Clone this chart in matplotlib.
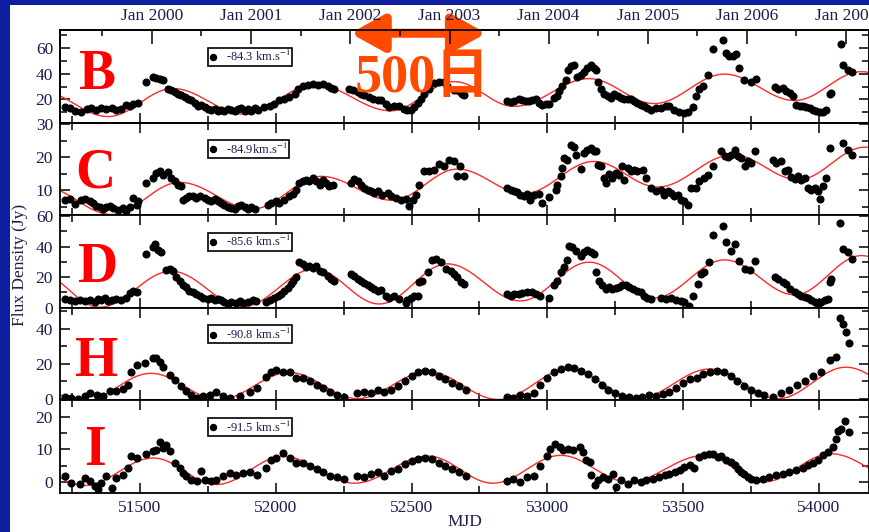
import numpy as np
import matplotlib.pyplot as plt
from matplotlib.ticker import MultipleLocator, FixedLocator

plt.rcParams['font.family'] = ['Liberation Serif', 'Noto Sans CJK JP']
plt.rcParams['mathtext.fontset'] = 'stix'

BLUE = '#0d1f9e'
ORANGE = '#ff4a00'
INK = '#1a1d4d'

# ---- data (MJD, flux density in Jy) ----
B_MJD = [51223, 51241, 51260, 51284, 51303, 51321, 51339, 51358, 51376, 51395, 51413, 51431, 51450, 51462, 51474, 51493,
         51523, 51548, 51560, 51572, 51585, 51603, 51615, 51627, 51640, 51652, 51664, 51676, 51689, 51701, 51713, 51725,
         51738, 51750, 51762, 51775, 51787, 51799, 51811, 51824, 51836, 51848, 51860, 51873, 51885, 51897, 51909, 51922,
         51934, 51958, 51977, 51995, 52013, 52032, 52050, 52069, 52081, 52099, 52118, 52136, 52154, 52173, 52191, 52203,
         52216, 52271, 52283, 52301, 52314, 52326, 52344, 52357, 52375, 52387, 52406, 52418, 52436, 52455, 52473, 52485,
         52498, 52510, 52522, 52534, 52547, 52565, 52583, 52602, 52620, 52632, 52657, 52675, 52686, 52692,
         52852, 52865, 52877, 52895, 52908, 52920, 52932, 52945, 52957, 52969, 52982, 52994, 53006, 53025, 53037, 53043,
         53055, 53068, 53076, 53086, 53099, 53111, 53123, 53135, 53148, 53160, 53172, 53179, 53185, 53197, 53209, 53222,
         53234, 53246, 53259, 53271, 53283, 53296, 53308, 53320, 53332, 53345, 53357, 53369, 53382, 53400, 53419, 53437,
         53450, 53468, 53486, 53505, 53517, 53536, 53548, 53560, 53573, 53591, 53610, 53647, 53659, 53671, 53683, 53696,
         53708, 53726, 53751, 53770, 53837, 53850, 53868, 53880, 53893, 53905, 53917, 53930, 53942, 53954, 53967, 53979,
         53991, 54004, 54016, 54028, 54041, 54044, 54081, 54090, 54108, 54121]
B_FLUX = [13.9, 13.1, 11.2, 9.9, 12.5, 13.3, 12.0, 13.6, 12.5, 13.1, 11.7, 12.5, 15.7, 14.7, 16.5, 17.3,
          33.3, 37.1, 36.5, 36.0, 35.2, 28.5, 27.7, 25.9, 24.5, 23.2, 21.9, 20.5, 19.2, 17.3, 15.2, 15.7,
          13.9, 12.5, 12.0, 12.5, 11.2, 11.7, 11.2, 12.5, 12.0, 11.2, 12.5, 13.1, 11.2, 12.5, 11.2, 13.1,
          12.0, 13.9, 15.2, 16.5, 19.2, 20.0, 21.9, 24.5, 28.5, 30.7, 31.2, 31.7, 31.2, 31.7, 30.7, 29.1,
          28.5, 28.5, 27.7, 25.9, 24.5, 23.2, 21.9, 20.5, 19.7, 19.2, 16.5, 13.9, 14.7, 15.2, 12.5, 12.0,
          12.0, 14.2, 17.3, 20.0, 24.5, 28.5, 32.5, 33.9, 33.9, 30.2, 27.5, 26.2, 24.0, 23.2,
          18.7, 17.8, 18.9, 20.0, 19.2, 18.9, 18.7, 19.5, 20.5, 17.3, 16.0, 16.8, 16.2, 21.4, 22.7, 26.8,
          30.8, 34.9, 43.0, 45.7, 47.0, 37.6, 38.9, 41.6, 44.3, 47.0, 44.3, 43.0, 33.5, 28.1, 24.0, 22.7,
          21.4, 24.0, 22.7, 21.4, 20.0, 20.5, 20.0, 18.7, 17.3, 16.0, 14.6, 13.3, 11.9, 13.3, 13.3, 14.6,
          14.6, 11.9, 10.6, 9.2, 10.6, 14.1, 22.7, 28.1, 30.8, 39.4, 59.2, 65.9, 56.5, 53.8, 53.8, 55.1,
          44.3, 34.9, 33.5, 36.2, 29.5, 28.1, 28.6, 26.8, 25.4, 22.7, 16.0, 15.1, 14.6, 14.1, 13.0, 11.9,
          11.4, 10.6, 10.6, 11.9, 24.0, 25.4, 63.2, 47.0, 43.0, 41.6]

C_MJD = [51223, 51241, 51260, 51284, 51297, 51315, 51327, 51339, 51352, 51364, 51376, 51389, 51401, 51419, 51437, 51450,
         51462, 51474, 51487, 51493, 51523, 51548, 51560, 51572, 51585, 51603, 51615, 51627, 51640, 51652, 51658, 51670,
         51682, 51695, 51707, 51719, 51738, 51750, 51762, 51775, 51787, 51799, 51811, 51824, 51836, 51848, 51860, 51873,
         51885, 51897, 51909, 51922, 51970, 51983, 52001, 52013, 52032, 52050, 52062, 52075, 52087, 52099, 52112, 52124,
         52136, 52148, 52161, 52173, 52185, 52197, 52210, 52277, 52289, 52301, 52314, 52326, 52338, 52351, 52363, 52375,
         52393, 52412, 52424, 52443, 52461, 52479, 52491, 52504, 52516, 52528, 52547, 52565, 52583, 52602, 52620, 52638,
         52657, 52669, 52680, 52692, 52852, 52865, 52877, 52889, 52901, 52914, 52926, 52938, 52951, 52969, 52982, 53006,
         53031, 53037, 53049, 53055, 53062, 53074, 53086, 53099, 53105, 53123, 53135, 53148, 53160, 53172, 53179, 53185,
         53197, 53209, 53216, 53228, 53240, 53252, 53265, 53277, 53283, 53296, 53308, 53320, 53332, 53351, 53363, 53382,
         53400, 53419, 53431, 53443, 53456, 53468, 53480, 53493, 53505, 53517, 53530, 53548, 53560, 53579, 53591, 53610,
         53641, 53653, 53665, 53677, 53690, 53702, 53714, 53727, 53739, 53751, 53764, 53831, 53843, 53862, 53874, 53887,
         53899, 53911, 53924, 53936, 53948, 53960, 53973, 53985, 53998, 54004, 54016, 54028, 54041, 54090, 54108, 54121]
C_FLUX = [7.2, 7.4, 6.0, 7.2, 7.4, 6.7, 6.2, 5.4, 5.0, 4.4, 5.0, 5.4, 4.7, 4.0, 4.7, 3.7,
          5.0, 7.7, 5.7, 6.7, 12.2, 13.7, 15.2, 15.7, 14.7, 15.4, 13.7, 12.7, 11.7, 11.2, 7.2, 7.7,
          8.2, 8.4, 7.7, 8.2, 7.7, 7.2, 6.7, 7.4, 6.7, 6.2, 5.7, 5.0, 4.7, 4.4, 5.4, 5.7,
          5.0, 4.4, 5.0, 4.4, 5.7, 6.2, 6.7, 6.2, 7.2, 8.2, 9.0, 10.2, 12.2, 12.7, 13.2, 12.7,
          13.7, 12.7, 11.7, 13.2, 12.2, 11.2, 11.7, 12.2, 13.4, 12.7, 11.7, 10.7, 10.2, 9.7, 9.2, 9.7,
          8.7, 9.2, 8.4, 7.7, 7.2, 7.4, 5.2, 7.2, 8.7, 11.7, 15.7, 15.7, 16.2, 18.0, 17.4, 19.2,
          18.7, 14.2, 17.4, 14.2, 10.7, 10.2, 9.7, 9.4, 8.7, 8.2, 9.0, 7.2, 8.7, 9.0, 6.2, 8.0,
          10.2, 11.7, 14.2, 16.7, 19.7, 19.2, 23.7, 23.2, 20.7, 16.4, 21.2, 22.2, 22.7, 21.7, 21.7, 17.7,
          17.2, 13.7, 12.2, 15.0, 13.7, 15.2, 14.7, 17.2, 13.2, 16.7, 15.7, 16.2, 15.7, 16.2, 13.7, 10.7,
          9.7, 10.0, 8.7, 9.7, 9.2, 8.2, 8.7, 7.2, 6.7, 5.7, 10.7, 10.7, 12.7, 13.7, 14.7, 17.2,
          21.7, 20.2, 20.0, 20.7, 22.2, 20.2, 19.7, 17.2, 18.7, 18.2, 21.7, 19.2, 18.2, 18.7, 15.7, 16.2,
          14.0, 13.4, 14.2, 13.2, 13.7, 10.7, 10.2, 10.7, 9.7, 7.4, 11.2, 13.7, 22.7, 24.2, 22.2, 20.7]

D_MJD = [51223, 51241, 51260, 51278, 51297, 51315, 51333, 51346, 51358, 51370, 51382, 51395, 51413, 51431, 51450, 51462,
         51474, 51487, 51523, 51548, 51554, 51566, 51578, 51597, 51609, 51621, 51634, 51646, 51658, 51670, 51682, 51695,
         51707, 51719, 51731, 51750, 51762, 51775, 51787, 51799, 51811, 51824, 51836, 51854, 51867, 51879, 51897, 51916,
         51928, 51965, 51977, 51995, 52007, 52020, 52032, 52044, 52056, 52062, 52075, 52087, 52099, 52112, 52124, 52136,
         52148, 52161, 52173, 52191, 52203, 52216, 52277, 52289, 52301, 52314, 52326, 52338, 52351, 52363, 52375, 52387,
         52406, 52418, 52436, 52455, 52479, 52485, 52498, 52510, 52522, 52528, 52540, 52559, 52577, 52589, 52608, 52626,
         52645, 52657, 52669, 52681, 52692, 52852, 52865, 52877, 52895, 52908, 52926, 52945, 52957, 52975, 53006, 53025,
         53037, 53049, 53062, 53074, 53080, 53092, 53105, 53123, 53135, 53148, 53160, 53172, 53179, 53191, 53203, 53216,
         53228, 53240, 53252, 53265, 53277, 53289, 53302, 53314, 53332, 53345, 53357, 53369, 53382, 53419, 53437, 53456,
         53474, 53493, 53505, 53523, 53536, 53554, 53567, 53579, 53597, 53610, 53647, 53659, 53677, 53690, 53708, 53727,
         53745, 53764, 53837, 53850, 53868, 53880, 53893, 53911, 53924, 53936, 53948, 53960, 53973, 53985, 53998, 54010,
         54022, 54035, 54041, 54044, 54078, 54090, 54108, 54121]
D_FLUX = [5.9, 5.2, 4.3, 4.8, 4.3, 5.2, 3.7, 5.9, 4.8, 6.5, 4.3, 5.2, 5.9, 4.8, 6.5, 9.6,
          10.9, 10.2, 35.2, 39.6, 41.7, 37.8, 36.3, 24.8, 25.4, 24.3, 20.0, 17.8, 14.6, 13.5, 11.3, 10.2,
          9.1, 7.4, 6.5, 5.9, 6.5, 5.2, 5.9, 4.8, 3.7, 2.6, 3.7, 3.0, 4.3, 3.0, 3.7, 4.8,
          4.3, 3.7, 5.2, 6.5, 7.4, 9.1, 11.3, 13.0, 15.7, 17.8, 20.0, 29.8, 28.7, 26.5, 27.6, 26.1,
          27.0, 24.3, 23.3, 21.1, 18.9, 17.8, 22.2, 21.1, 18.9, 17.8, 16.1, 15.2, 13.9, 12.4, 11.3, 11.7,
          8.0, 6.5, 7.4, 5.9, 3.0, 5.2, 6.5, 7.4, 8.0, 16.7, 17.4, 23.3, 31.3, 32.0, 29.8, 25.4,
          24.3, 22.2, 20.0, 16.7, 15.7, 9.1, 8.0, 9.1, 8.7, 9.6, 10.2, 10.2, 9.1, 7.4, 6.5, 14.6,
          17.8, 23.3, 26.5, 31.3, 40.7, 39.6, 37.4, 34.1, 36.3, 37.8, 36.3, 35.2, 23.3, 17.8, 14.6, 12.4,
          13.5, 12.4, 13.0, 13.9, 15.2, 14.6, 13.5, 12.4, 11.3, 10.2, 8.0, 6.5, 5.9, 6.5, 5.9, 6.5,
          5.2, 4.3, 3.7, 1.5, 8.0, 15.7, 22.2, 23.3, 29.8, 47.8, 53.7, 42.8, 37.4, 41.7, 30.9, 25.4,
          24.8, 30.9, 20.0, 18.9, 16.7, 15.7, 12.4, 10.2, 9.1, 8.0, 7.0, 6.5, 5.2, 3.7, 2.6, 3.7,
          4.8, 5.9, 16.7, 18.9, 55.2, 38.5, 36.3, 32.0]

H_MJD = [51223, 51247, 51272, 51296, 51315, 51340, 51365, 51388, 51413, 51437, 51456, 51468, 51487, 51517, 51548, 51560,
         51573, 51585, 51609, 51628, 51652, 51671, 51689, 51708, 51732, 51757, 51781, 51806, 51830, 51867, 51904, 51929,
         51965, 51983, 52002, 52027, 52051, 52076, 52100, 52125, 52150, 52175, 52200, 52225, 52250, 52300, 52325, 52350,
         52375, 52400, 52425, 52450, 52475, 52500, 52525, 52550, 52575, 52600, 52625, 52650, 52675, 52700, 52850, 52875,
         52900, 52925, 52950, 52975, 53000, 53025, 53050, 53075, 53100, 53125, 53150, 53175, 53200, 53225, 53250, 53275,
         53300, 53325, 53350, 53375, 53400, 53425, 53450, 53475, 53500, 53525, 53550, 53575, 53600, 53625, 53650, 53675,
         53700, 53725, 53750, 53775, 53800, 53830, 53860, 53890, 53920, 53950, 53980, 54010, 54040, 54065, 54080, 54090,
         54100, 54110]
H_FLUX = [0.8, 0.4, 0.0, 1.3, 3.2, 2.0, 1.5, 4.2, 4.5, 5.7, 7.9, 15.5, 19.2, 20.2, 23.4, 23.0,
          21.1, 18.3, 13.6, 10.8, 7.0, 4.2, 2.0, 0.4, 1.3, 2.0, 3.8, 1.3, 0.4, 1.3, 3.8, 6.0,
          12.6, 15.5, 16.4, 15.1, 15.1, 11.7, 12.0, 10.0, 8.0, 6.0, 4.0, 2.0, 1.0, 3.0, 4.0, 3.5,
          5.0, 4.0, 5.0, 7.0, 10.0, 13.0, 15.0, 16.0, 15.0, 13.0, 11.0, 9.0, 7.0, 5.0, 1.0, 0.5,
          2.0, 1.5, 3.0, 8.0, 12.0, 15.0, 17.0, 18.0, 17.5, 16.0, 14.0, 11.0, 8.0, 5.0, 3.0, 1.5,
          1.0, 0.5, 1.0, 2.0, 1.5, 2.5, 4.0, 6.0, 9.0, 11.0, 12.0, 14.0, 15.0, 16.0, 15.0, 13.0,
          10.0, 7.0, 5.0, 3.0, 2.0, 1.0, 3.0, 5.0, 8.0, 10.0, 13.0, 15.0, 22.0, 24.0, 46.0, 43.0,
          38.0, 32.0]

I_MJD = [51223, 51247, 51278, 51296, 51315, 51333, 51345, 51358, 51376, 51395, 51413, 51437, 51456, 51468, 51487, 51523,
         51548, 51560, 51573, 51585, 51597, 51609, 51628, 51646, 51658, 51671, 51689, 51708, 51726, 51738, 51763, 51781,
         51806, 51830, 51855, 51879, 51904, 51929, 51965, 51983, 52002, 52027, 52051, 52076, 52100, 52125, 52150, 52175,
         52200, 52225, 52250, 52300, 52325, 52350, 52375, 52400, 52425, 52450, 52475, 52500, 52525, 52550, 52575, 52600,
         52625, 52650, 52675, 52700, 52850, 52875, 52900, 52925, 52950, 52975, 53000, 53010, 53027, 53045, 53057, 53076,
         53094, 53119, 53131, 53143, 53156, 53162, 53174, 53186, 53204, 53223, 53241, 53254, 53272, 53297, 53321, 53346,
         53364, 53389, 53413, 53432, 53450, 53469, 53487, 53505, 53524, 53542, 53560, 53579, 53597, 53609, 53628, 53640,
         53659, 53677, 53690, 53702, 53714, 53726, 53739, 53751, 53770, 53794, 53818, 53843, 53867, 53892, 53917, 53941,
         53959, 53978, 53996, 54015, 54033, 54052, 54064, 54070, 54082, 54095, 54113]
I_FLUX = [1.8, -0.2, -0.7, 1.3, 0.3, -1.2, -2.2, -0.2, 1.8, -1.7, 1.3, 2.3, 4.3, 7.9, 7.4, 8.7,
          9.4, 9.9, 12.4, 10.4, 11.4, 9.4, 5.9, 4.3, 2.8, 1.8, 0.8, 0.3, 3.3, 0.8, 0.3, 0.8,
          1.8, 2.8, 2.3, 2.8, 3.0, 2.3, 4.3, 6.9, 7.4, 8.9, 7.4, 5.9, 6.0, 5.0, 4.0, 3.0,
          2.0, 1.5, 1.0, 2.0, 1.5, 2.5, 3.0, 2.0, 3.5, 4.0, 5.5, 6.5, 7.0, 7.5, 7.0, 6.0,
          5.0, 4.0, 3.0, 2.0, 0.5, 1.0, 0.0, 1.5, 2.0, 5.0, 8.0, 10.0, 11.7, 10.7, 9.7, 10.2,
          9.7, 10.7, 9.2, 6.7, 6.2, 2.1, -0.9, 0.6, 1.6, 1.1, 2.6, -1.4, 0.6, -0.4, 0.6, 0.1,
          0.6, 1.1, 1.6, 2.1, 2.6, 3.1, 3.6, 4.6, 5.2, 4.4, 7.7, 8.2, 8.5, 8.5, 7.7, 7.9,
          6.7, 6.2, 5.2, 4.1, 3.1, 2.6, 1.6, 1.1, 0.6, 1.1, 1.6, 2.1, 2.6, 3.1, 3.8, 4.4,
          5.2, 5.9, 6.7, 8.2, 9.2, 10.7, 13.2, 15.8, 16.3, 18.8, 15.3]

# turning points (MJD, Jy) of the red model curves
B_FIT = [(51130, 27.0), (51382, 6.7), (51621, 28.5), (51885, 8.5), (52142, 31.7), (52424, 11.2), (52657, 33.9),
         (52877, 14.6), (53154, 36.2), (53394, 16.8), (53653, 39.7), (53911, 19.2), (54157, 41.6), (54410, 21.0)]
C_FIT = [(51145, 11.0), (51395, 2.7), (51646, 12.4), (51915, 4.4), (52167, 14.2), (52430, 7.0), (52669, 16.4),
         (52914, 9.0), (53172, 18.7), (53406, 11.0), (53683, 20.7), (53924, 13.2), (54170, 23.0), (54420, 15.0)]
D_FIT = [(51130, 22.5), (51350, 0.4), (51615, 23.9), (51879, 0.8), (52142, 25.4), (52381, 2.5), (52632, 28.7),
         (52901, 4.5), (53154, 29.8), (53394, 6.5), (53653, 31.3), (53911, 8.5), (54157, 34.1), (54420, 10.0)]
H_FIT = [(51030, 14.0), (51290, -1.5), (51540, 14.5), (51790, -0.5), (52050, 15.0), (52300, 0.0), (52560, 15.5),
         (52820, -0.5), (53080, 17.0), (53330, 0.0), (53600, 17.0), (53850, 0.0), (54100, 18.0), (54350, 1.0)]
I_FIT = [(51050, 7.0), (51296, -1.0), (51548, 7.4), (51781, -0.7), (52027, 7.9), (52290, -0.3), (52560, 8.0),
         (52800, -0.3), (53050, 8.2), (53297, 0.1), (53579, 8.2), (53798, 0.1), (54045, 8.7), (54300, 1.0)]

LETTERS = ['B', 'C', 'D', 'H', 'I']
VELOCITIES = ['-84.3 km.s', '-84.9km.s', '-85.6 km.s', '-90.8 km.s', '-91.5 km.s']
YLIMS = [(2, 74), (2.5, 30.4), (0, 60.5), (-1, 52), (-3.3, 25)]
YSTEPS = [(20, 10), (10, 5), (20, 10), (20, 10), (10, 5)]

JAN_MJD = [51544, 51910, 52275, 52640, 53005, 53371, 53736, 54101]
JAN_LABELS = ['Jan 2000', 'Jan 2001', 'Jan 2002', 'Jan 2003', 'Jan 2004', 'Jan 2005', 'Jan 2006', 'Jan 2007']
JUL_MJD = [51360, 51726, 52091, 52456, 52821, 53187, 53552, 53917]

ARROW_FROM = 52275
ARROW_DAYS = 500


def fit_curve(turns, n=60):
    # half-cosine segments between consecutive turning points
    xs, ys = [], []
    for (x0, y0), (x1, y1) in zip(turns[:-1], turns[1:]):
        t = np.linspace(0, 1, n)
        xs.append(x0 + (x1 - x0) * t)
        ys.append(y1 + (y0 - y1) * (1 + np.cos(np.pi * t)) / 2)
    return np.concatenate(xs), np.concatenate(ys)


panels = [(B_MJD, B_FLUX, B_FIT), (C_MJD, C_FLUX, C_FIT), (D_MJD, D_FLUX, D_FIT),
          (H_MJD, H_FLUX, H_FIT), (I_MJD, I_FLUX, I_FIT)]

fig = plt.figure(figsize=(8.69, 5.32), dpi=100, facecolor=BLUE)
fig.add_artist(plt.Rectangle((10 / 869, 0), 1, 1 - 5 / 532, transform=fig.transFigure,
                             facecolor='white', edgecolor='none', zorder=-10))
axes = fig.subplots(5, 1, sharex=True)
fig.subplots_adjust(left=0.069, right=1.0, top=0.9436, bottom=0.0733, hspace=0)

letter_pos = [(0.022, 0.36), (0.019, 0.30), (0.021, 0.28), (0.019, 0.26), (0.03, 0.30)]

for i, ax in enumerate(axes):
    mjd, flux, turns = panels[i]
    fx, fy = fit_curve(turns)
    ax.plot(fx, fy, color='#ff2a2a', lw=1.0, zorder=2)
    ax.plot(mjd, flux, 'o', color='black', ms=4.8, mec='black', zorder=3,
            label=VELOCITIES[i] + r'$^{-1}$')
    ax.set_xlim(51205, 54185)
    ax.set_ylim(*YLIMS[i])
    ax.yaxis.set_major_locator(MultipleLocator(YSTEPS[i][0]))
    ax.yaxis.set_minor_locator(MultipleLocator(YSTEPS[i][1]))
    ax.xaxis.set_major_locator(MultipleLocator(500))
    ax.xaxis.set_minor_locator(MultipleLocator(250))
    ax.tick_params(which='both', direction='in', right=True, top=(i > 0), width=1.1,
                   labelsize=12.5, labelcolor=INK, pad=5)
    ax.tick_params(which='major', length=7)
    ax.tick_params(which='minor', length=5)
    for sp in ax.spines.values():
        sp.set_linewidth(1.3)
    ax.text(letter_pos[i][0], letter_pos[i][1], LETTERS[i], transform=ax.transAxes,
            color='red', fontsize=40, fontweight='bold', va='baseline', ha='left', zorder=4)
    leg = ax.legend(loc='upper left', bbox_to_anchor=(0.183, 0.81), frameon=True, fancybox=False,
                    edgecolor='black', framealpha=1, fontsize=9, handlelength=0.6, handletextpad=0.7,
                    borderpad=0.12, borderaxespad=0, markerscale=0.9)
    leg.get_frame().set_linewidth(1.2)
    for t in leg.get_texts():
        t.set_color(INK)

axes[-1].xaxis.set_major_formatter(plt.FuncFormatter(lambda v, p: '%d' % v))

# calendar axis on top
top = axes[0].twiny()
top.set_xlim(axes[0].get_xlim())
top.xaxis.set_major_locator(FixedLocator(JAN_MJD))
top.set_xticklabels(JAN_LABELS)
top.xaxis.set_minor_locator(FixedLocator(JUL_MJD))
top.tick_params(which='both', direction='in', width=1.1, labelsize=12.5, labelcolor=INK, pad=4)
top.tick_params(which='major', length=10)
top.tick_params(which='minor', length=4)
for sp in top.spines.values():
    sp.set_linewidth(1.3)

# 500-day period marker
axes[0].annotate('', xy=(ARROW_FROM + ARROW_DAYS, 0.965), xytext=(ARROW_FROM, 0.965),
                 xycoords=('data', 'axes fraction'), textcoords=('data', 'axes fraction'),
                 arrowprops=dict(arrowstyle='<|-|>,head_length=0.9,head_width=0.5', lw=6.5,
                                 color=ORANGE, shrinkA=0, shrinkB=0, mutation_scale=22),
                 annotation_clip=False, zorder=6)
axes[0].text(ARROW_FROM + 15, 0.33, '500日', transform=axes[0].get_xaxis_transform(),
             color=ORANGE, fontsize=39, fontweight='bold', va='baseline', ha='left', zorder=6)

fig.text(0.023, 0.502, 'Flux Density (Jy)', rotation=90, va='center', ha='center',
         fontsize=12.5, color=INK)
fig.text(0.535, 0.019, 'MJD', va='center', ha='center', fontsize=12.5, color=INK)

fig.savefig('out.png', dpi=100, facecolor=BLUE)
